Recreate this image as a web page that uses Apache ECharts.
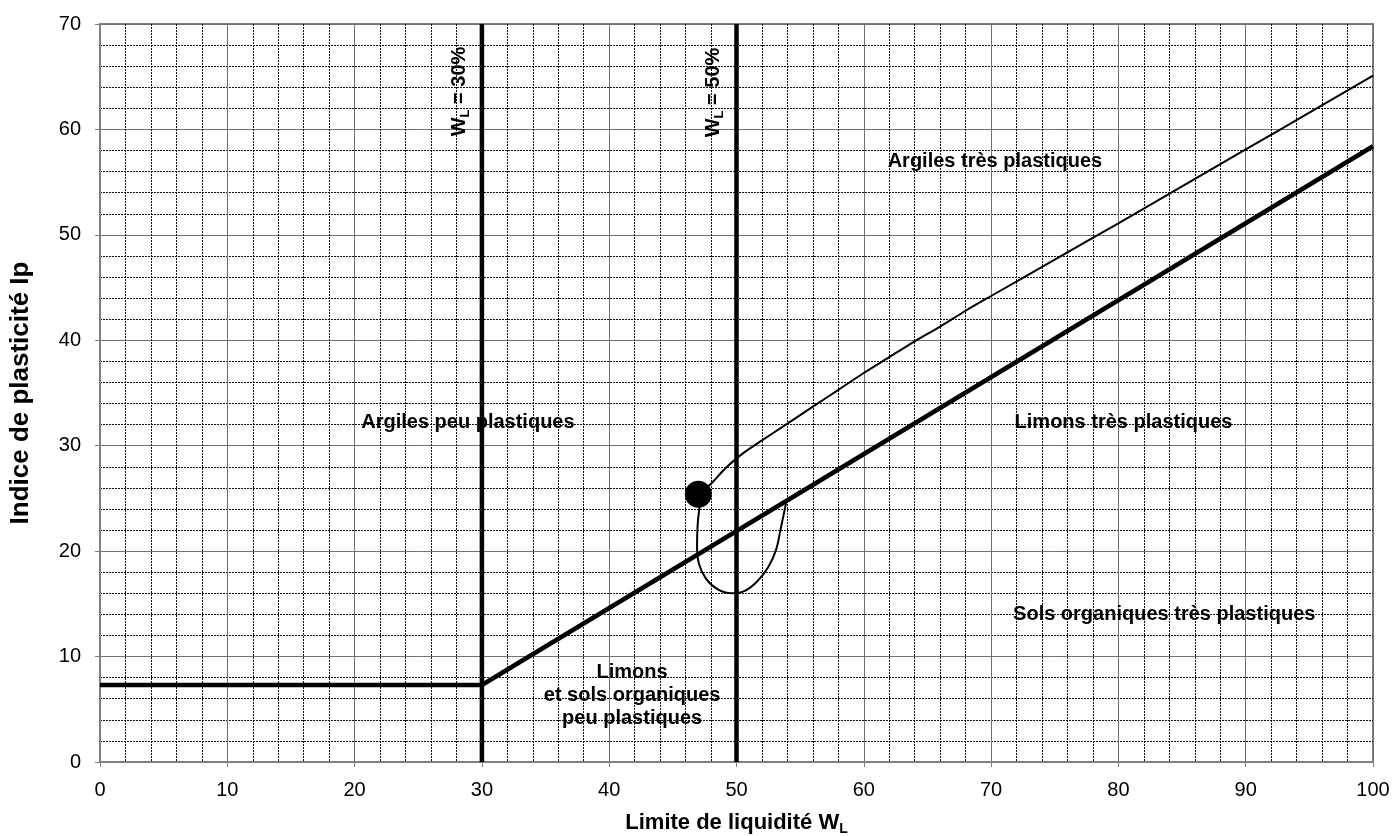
<!DOCTYPE html>
<html>
<head>
<meta charset="utf-8">
<title>Diagramme de plasticité</title>
<script src="https://cdn.jsdelivr.net/npm/echarts@6/dist/echarts.min.js"></script>
<style>
  html, body { margin: 0; padding: 0; background: #fff; }
  #chart { width: 1397px; height: 836px; }
</style>
</head>
<body>
<div id="chart"></div>
<script>
// Ligne A (Casagrande) et limites verticales
const aLine = [[0, 7.3], [30, 7.3], [100, 58.4]];
const wl30 = [[30, 0], [30, 70]];
const wl50 = [[50, 0], [50, 70]];
// courbe fine vers le haut a partir du point
const upperCurve = [[47, 25.4], [48, 26.4], [49, 27.7], [50, 28.8], [51, 29.7], [52, 30.5], [54, 32.1],
  [56, 33.7], [58, 35.3], [60, 36.9], [62, 38.4], [64, 39.9], [66, 41.3], [68, 42.8], [70, 44.2],
  [75, 47.65], [80, 51.1], [85, 54.6], [90, 58.1], [95, 61.6], [100, 65.1]];
// boucle sous le point
const loopCurve = [[47.1, 24.2], [46.95, 22.5], [46.9, 20.5], [47.05, 18.8], [47.6, 17.4], [48.5, 16.4],
  [49.6, 16.0], [50.6, 16.2], [51.6, 17.1], [52.5, 18.5], [53.1, 20.1], [53.45, 22.0], [53.9, 24.6]];
const sample = [[47, 25.4]];

const zoneNames = ['Argiles très plastiques', 'Argiles peu plastiques', 'Limons très plastiques',
  'Sols organiques très plastiques', 'Limons\net sols organiques\npeu plastiques'];
const zonePos = [[70.3, 57.0], [28.9, 32.2], [80.4, 32.2], [83.6, 14.0], [41.8, 6.35]];
const wlNames = ['W{s|L} = 30%', 'W{s|L} = 50%'];
const wlPos = [[28.2, 63.6], [48.2, 63.5]];

const xTicks = [0, 100, 10];
const yTicks = [0, 70, 10];

const font = 'Liberation Sans, Arial, sans-serif';
const chart = echarts.init(document.getElementById('chart'));

const axisCommon = {
  axisLine: { lineStyle: { color: '#808080', width: 2 } },
  axisTick: { show: true, length: 5, lineStyle: { color: '#808080', width: 1 } },
  splitLine: { show: true, lineStyle: { color: '#707070', width: 1 } },
  minorTick: { show: false, splitNumber: 5 },
  minorSplitLine: { show: true, lineStyle: { color: '#111', width: 1, type: [2, 1] } }
};

function lineSeries(data, width, smooth) {
  return {
    type: 'line',
    data: data,
    symbol: 'none',
    smooth: smooth || false,
    lineStyle: { color: '#000', width: width },
    silent: true,
    z: 3
  };
}

const subStyle = { fontSize: 13, fontWeight: 'bold', fontFamily: font, color: '#000', padding: [12, 0, 0, 0] };

const option = {
  animation: false,
  grid: {
    left: 100, right: 24, top: 24, bottom: 74,
    outerBoundsMode: 'none',
    show: true, borderColor: '#808080', borderWidth: 2
  },
  xAxis: Object.assign({}, axisCommon, {
    type: 'value', min: xTicks[0], max: xTicks[1], interval: xTicks[2],
    axisLabel: { color: '#000', fontSize: 20, fontFamily: font, margin: 18 },
    name: 'Limite de liquidité W{s|L}',
    nameLocation: 'middle', nameGap: 48,
    nameTextStyle: {
      color: '#000', fontSize: 22, fontWeight: 'bold', fontFamily: font,
      rich: { s: Object.assign({}, subStyle, { fontSize: 14 }) }
    }
  }),
  yAxis: Object.assign({}, axisCommon, {
    type: 'value', min: yTicks[0], max: yTicks[1], interval: yTicks[2],
    axisLabel: { color: '#000', fontSize: 20, fontFamily: font, margin: 19 },
    name: 'Indice de plasticité Ip',
    nameLocation: 'middle', nameGap: 66, nameRotate: 90,
    nameTextStyle: { color: '#000', fontSize: 26, fontWeight: 'bold', fontFamily: font }
  }),
  series: [
    lineSeries(aLine, 4.5),
    lineSeries(wl30, 4.5),
    lineSeries(wl50, 4.5),
    lineSeries(upperCurve, 2, 0.3),
    lineSeries(loopCurve, 2, 0.4),
    {
      type: 'scatter', data: sample, symbolSize: 27,
      itemStyle: { color: '#000', opacity: 1 }, silent: true, z: 5
    },
    {
      type: 'scatter', symbolSize: 0, silent: true, z: 6,
      itemStyle: { opacity: 1 },
      data: zonePos.map((p, i) => ({ value: p, name: zoneNames[i] })),
      label: {
        show: true, position: 'inside', formatter: '{b}',
        color: '#000', fontSize: 20, fontWeight: 'bold', fontFamily: font,
        textBorderWidth: 0, lineHeight: 23, align: 'center'
      }
    },
    {
      type: 'scatter', symbolSize: 0, silent: true, z: 6,
      itemStyle: { opacity: 1 },
      data: wlPos.map((p, i) => ({ value: p, name: wlNames[i] })),
      label: {
        show: true, position: 'inside', rotate: 90, formatter: '{b}',
        color: '#000', fontSize: 20, fontWeight: 'bold', fontFamily: font,
        textBorderWidth: 0,
        rich: { s: subStyle }
      }
    }
  ]
};

chart.setOption(option);
</script>
</body>
</html>
